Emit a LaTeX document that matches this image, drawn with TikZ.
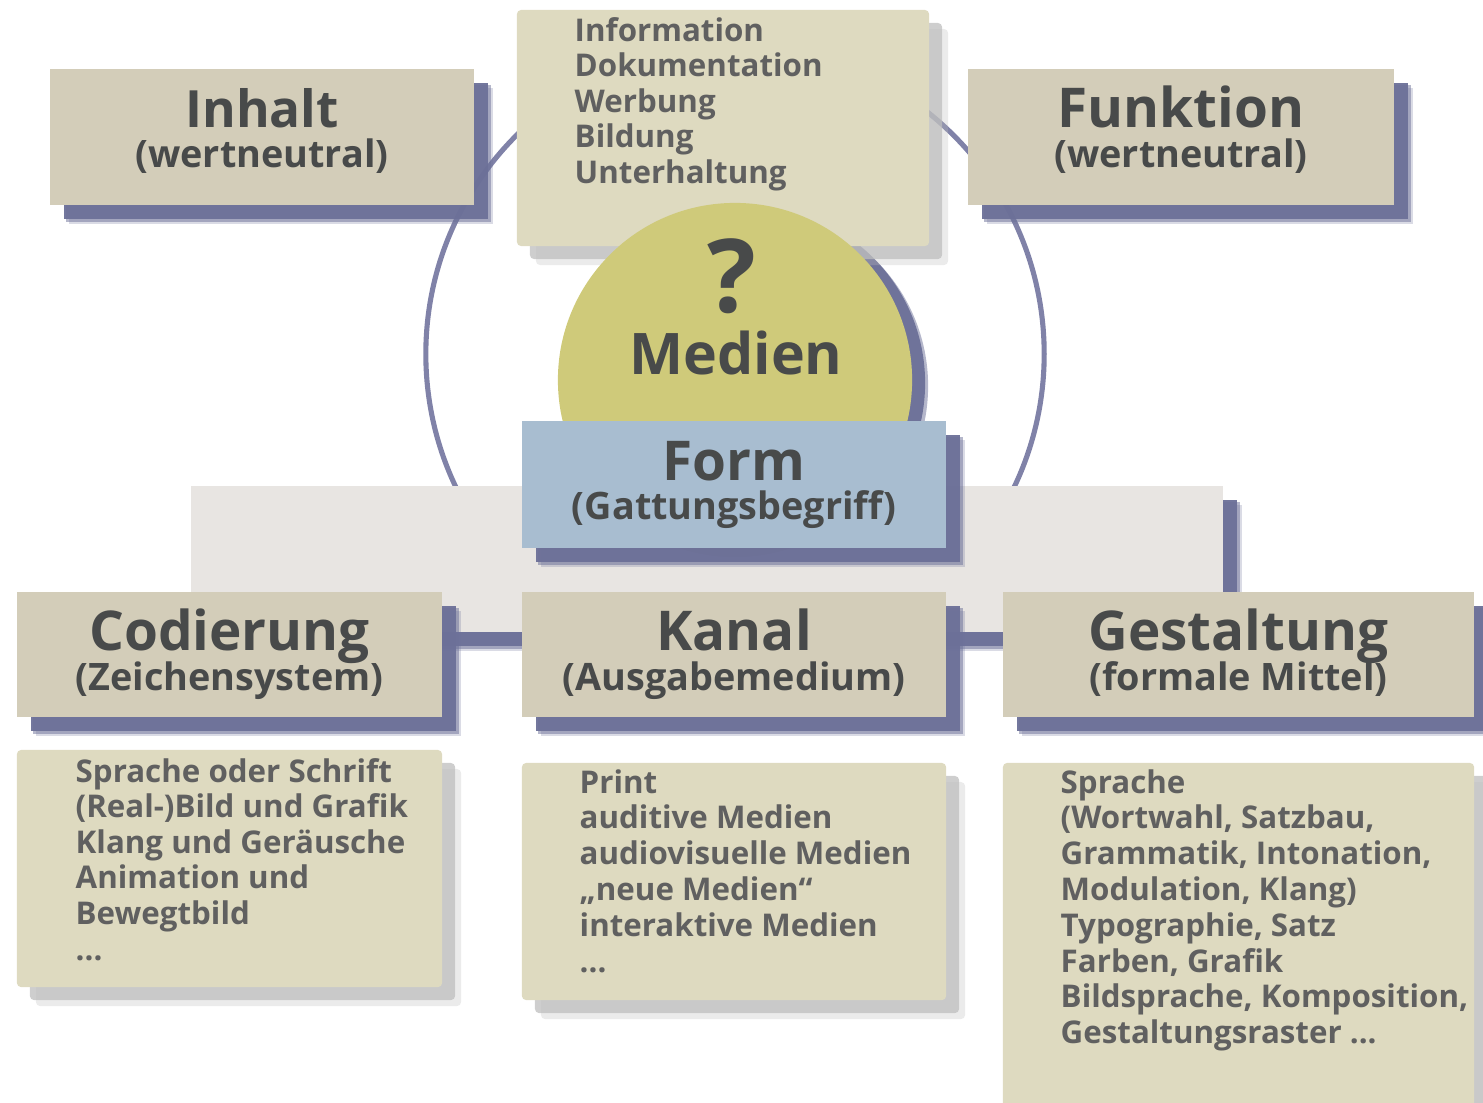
\documentclass[tikz,border=0pt]{standalone}
\usepackage{fontspec}
\setmainfont{Open Sans}
\usepackage{tikz}
\usetikzlibrary{shadows}

\definecolor{headbg}{RGB}{211,205,185}
\definecolor{listbg}{RGB}{222,218,192}
\definecolor{medienbg}{RGB}{207,202,122}
\definecolor{formbg}{RGB}{168,189,208}
\definecolor{panelbg}{RGB}{232,229,226}
\definecolor{shadeblue}{RGB}{108,112,152}
\definecolor{ringcol}{RGB}{128,130,168}
\definecolor{shadegray}{RGB}{190,190,190}
\definecolor{txtdark}{RGB}{72,74,74}
\definecolor{txtlist}{RGB}{96,96,96}
\newcommand{\weiter}{...}

\begin{document}
\begin{tikzpicture}[x=0.01cm,y=-0.01cm,
  blueshade/.style={drop shadow={shadow xshift=0.19cm,shadow yshift=-0.19cm,fill=shadeblue,opacity=0.25},
    drop shadow={shadow xshift=0.165cm,shadow yshift=-0.165cm,fill=shadeblue,opacity=0.5},
    drop shadow={shadow xshift=0.14cm,shadow yshift=-0.14cm,fill=shadeblue,opacity=0.95}},
  grayshade/.style={drop shadow={shadow xshift=0.19cm,shadow yshift=-0.19cm,fill=shadegray,opacity=0.3},
    drop shadow={shadow xshift=0.13cm,shadow yshift=-0.13cm,fill=shadegray,opacity=0.75}},
  headbox/.style={rectangle,fill=headbg,blueshade,inner sep=0pt,minimum height=1.25cm,minimum width=4.24cm},
  listbox/.style={rectangle,rounded corners=1.2pt,fill=listbg,grayshade,inner sep=0pt,minimum width=4.24cm},
  headtxt/.style={anchor=base,inner sep=0pt,text=txtdark,font=\fontsize{15.6}{17}\bfseries\selectfont},
  subtxt/.style={anchor=base,inner sep=0pt,text=txtdark,font=\fontsize{10.75}{12}\bfseries\selectfont},
  listtxt/.style={anchor=base west,inner sep=0pt,text=txtlist,font=\fontsize{8.9}{10}\bfseries\selectfont},
  ring/.style={draw=ringcol,line width=1.45pt}]
  \useasboundingbox (0,0) rectangle (1483,1102);

  % ring, disc shadow and band behind everything
  \draw[ring] (735,354) circle[radius=3.09cm];
  \fill[shadeblue,opacity=0.5] (751,386) circle[radius=1.77cm];
  \fill[shadeblue,opacity=0.95] (748,383) circle[radius=1.77cm];
  \node[rectangle,fill=panelbg,blueshade,inner sep=0pt,minimum width=10.32cm,minimum height=1.46cm] (band) at (707,559) {};

  % top row
  \node[listbox,minimum width=4.12cm,minimum height=2.36cm] (zweck) at (723,128) {};
  \node[headbox,minimum height=1.36cm] (inhalt) at (262,137) {};
  \node[headbox,minimum width=4.26cm,minimum height=1.36cm] (funktion) at (1181,137) {};
  \foreach \t [count=\i from 0] in {Information,Dokumentation,Werbung,Bildung,Unterhaltung}
    \node[listtxt] (zweck-\i) at (574,{41+35.5*\i}) {\t};
  \node[headtxt,font=\fontsize{14.6}{17}\bfseries\selectfont] (inhalt-t) at (262,127) {Inhalt};
  \node[subtxt] (inhalt-s) at (262,167) {(wertneutral)};
  \node[headtxt] (funktion-t) at (1181,127) {Funktion};
  \node[subtxt] (funktion-s) at (1181,167) {(wertneutral)};

  % centre
  \node[circle,fill=medienbg,inner sep=0pt,minimum size=3.54cm] (medien) at (735,380) {};
  \node[anchor=base,inner sep=0pt,text=txtdark,font=\fontsize{29}{30}\bfseries\selectfont] (frage) at (732,312) {?};
  \node[anchor=base,inner sep=0pt,text=txtdark,font=\fontsize{16.3}{18}\bfseries\selectfont] (medien-t) at (736,374) {Medien};
  \node[headbox,fill=formbg,minimum height=1.27cm] (form) at (734,484.5) {};
  \node[headtxt] (form-t) at (734,480) {Form};
  \node[subtxt] (form-s) at (734,519) {(Gattungsbegriff)};

  % lower row
  \node[headbox,minimum width=4.25cm] (codierung) at (229.5,654.5) {};
  \node[headbox] (kanal) at (734,654.5) {};
  \node[headbox,minimum width=4.71cm] (gestaltung) at (1238.5,654.5) {};
  \node[headtxt] (codierung-t) at (229.5,650) {Codierung};
  \node[subtxt] (codierung-s) at (229.5,690) {(Zeichensystem)};
  \node[headtxt] (kanal-t) at (734,650) {Kanal};
  \node[subtxt] (kanal-s) at (734,690) {(Ausgabemedium)};
  \node[headtxt] (gestaltung-t) at (1238.5,650) {Gestaltung};
  \node[subtxt] (gestaltung-s) at (1238.5,690) {(formale Mittel)};

  % lists
  \node[listbox,minimum width=4.25cm,minimum height=2.37cm] (codes) at (229.5,868.5) {};
  \node[listbox,minimum height=2.37cm] (kanaele) at (734,881.5) {};
  \node[listbox,minimum width=4.71cm,minimum height=3.57cm] (mittel) at (1238.5,941.5) {};
  \foreach \t [count=\i from 0] in {Sprache oder Schrift,(Real-)Bild und Grafik,Klang und Geräusche,Animation und,Bewegtbild,\weiter}
    \node[listtxt] (codes-\i) at (75,{782+35.6*\i}) {\t};
  \foreach \t [count=\i from 0] in {Print,auditive Medien,audiovisuelle Medien,„neue Medien“,interaktive Medien,\weiter}
    \node[listtxt] (kanaele-\i) at (579,{793+35.8*\i}) {\t};
  \foreach \t [count=\i from 0] in {Sprache,{(Wortwahl, Satzbau,},{Grammatik, Intonation,},{Modulation, Klang)},{Typographie, Satz},{Farben, Grafik},{Bildsprache, Komposition,},Gestaltungsraster \weiter}
    \node[listtxt] (mittel-\i) at (1060,{793+35.8*\i}) {\t};
\end{tikzpicture}
\end{document}
